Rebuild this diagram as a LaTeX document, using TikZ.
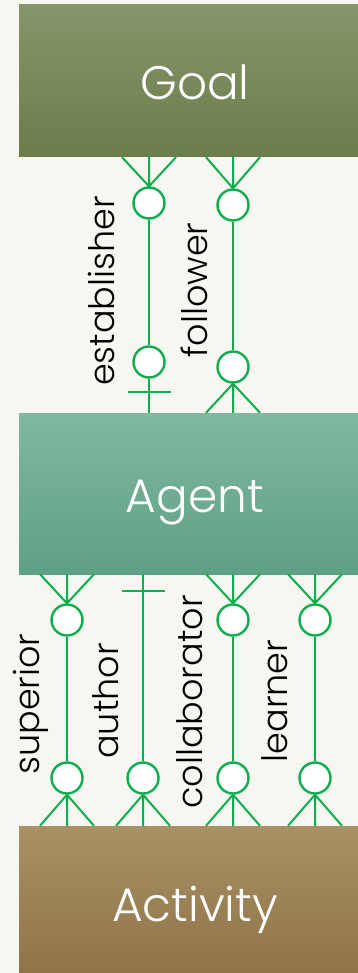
\documentclass[tikz,border=0pt]{standalone}
\usepackage{fontspec}
\setmainfont{Poppins}[UprightFont={* Light}]
\usetikzlibrary{calc}
\definecolor{bgcol}{RGB}{245,247,240}
\definecolor{relgreen}{RGB}{16,172,80}
\definecolor{goaltop}{RGB}{134,149,106}
\definecolor{goalbot}{RGB}{106,125,75}
\definecolor{agenttop}{RGB}{128,184,160}
\definecolor{agentbot}{RGB}{94,160,134}
\definecolor{acttop}{RGB}{169,145,102}
\definecolor{actbot}{RGB}{142,115,70}
% many end of a relation: apex #1, ends on the line of #2
\newcommand\crowfoot[2]{%
  \draw (#1) -- (#1 |- #2)
        (#1) -- ($(#1 |- #2)+(-27,0)$)
        (#1) -- ($(#1 |- #2)+(27,0)$);}
\begin{document}
\begin{tikzpicture}[x=1pt,y=-1pt,
    entity/.style={minimum width=352pt,inner sep=0pt,text=white,
      text height=40pt,text depth=2pt,font=\fontsize{47}{50}\selectfont},
    role/.style={circle,draw=relgreen,fill=white,line width=2.4pt,
      minimum size=31pt,inner sep=0pt},
    rolename/.style={rotate=90,inner sep=0pt,font=\fontsize{35}{38}\selectfont}]
  \useasboundingbox[fill=bgcol] (0,0) rectangle (358,973);
  \node[entity,minimum height=152pt,top color=goaltop,bottom color=goalbot]
    (goal) at (195,81) {Goal};
  \node[entity,minimum height=161pt,top color=agenttop,bottom color=agentbot]
    (agent) at (195,493.5) {Agent};
  \node[entity,minimum height=152pt,top color=acttop,bottom color=actbot]
    (activity) at (195,902) {Activity};
  \node[role] (eu) at (149,203) {};
  \node[role] (el) at (149,362) {};
  \node[role] (fu) at (233,205) {};
  \node[role] (fl) at (233,367) {};
  \node[role] (su) at (67,620) {};
  \node[role] (sl) at (67,778) {};
  \node[role] (al) at (143,778) {};
  \node[role] (cu) at (233,620) {};
  \node[role] (cl) at (233,778) {};
  \node[role] (lu) at (315,620) {};
  \node[role] (ll) at (315,778) {};
  \node[rolename] (estlbl) at (101,291) {establisher};
  \node[rolename] (follbl) at (194,290) {follower};
  \node[rolename] (suplbl) at (31,704) {superior};
  \node[rolename] (autlbl) at (106,701) {author};
  \node[rolename] (collbl) at (190,702) {collaborator};
  \node[rolename] (lealbl) at (275,701) {learner};
  \begin{scope}[draw=relgreen,line width=2pt]
    \draw (eu) to (el);
    \crowfoot{eu.north}{goal.south}
    \draw (el) to (el |- agent.north);
    \draw ([shift={(-21,13)}]el.south) -- ++(43,0);
    \draw (fu) to (fl);
    \crowfoot{fu.north}{goal.south}
    \crowfoot{fl.south}{agent.north}
    \draw (su) to (sl);
    \crowfoot{su.north}{agent.south}
    \crowfoot{sl.south}{activity.north}
    \draw (al) to (al |- agent.south);
    \draw ([shift={(-21,-170)}]al.north) -- ++(43,0);
    \crowfoot{al.south}{activity.north}
    \draw (cu) to (cl);
    \crowfoot{cu.north}{agent.south}
    \crowfoot{cl.south}{activity.north}
    \draw (lu) to (ll);
    \crowfoot{lu.north}{agent.south}
    \crowfoot{ll.south}{activity.north}
  \end{scope}
\end{tikzpicture}
\end{document}
